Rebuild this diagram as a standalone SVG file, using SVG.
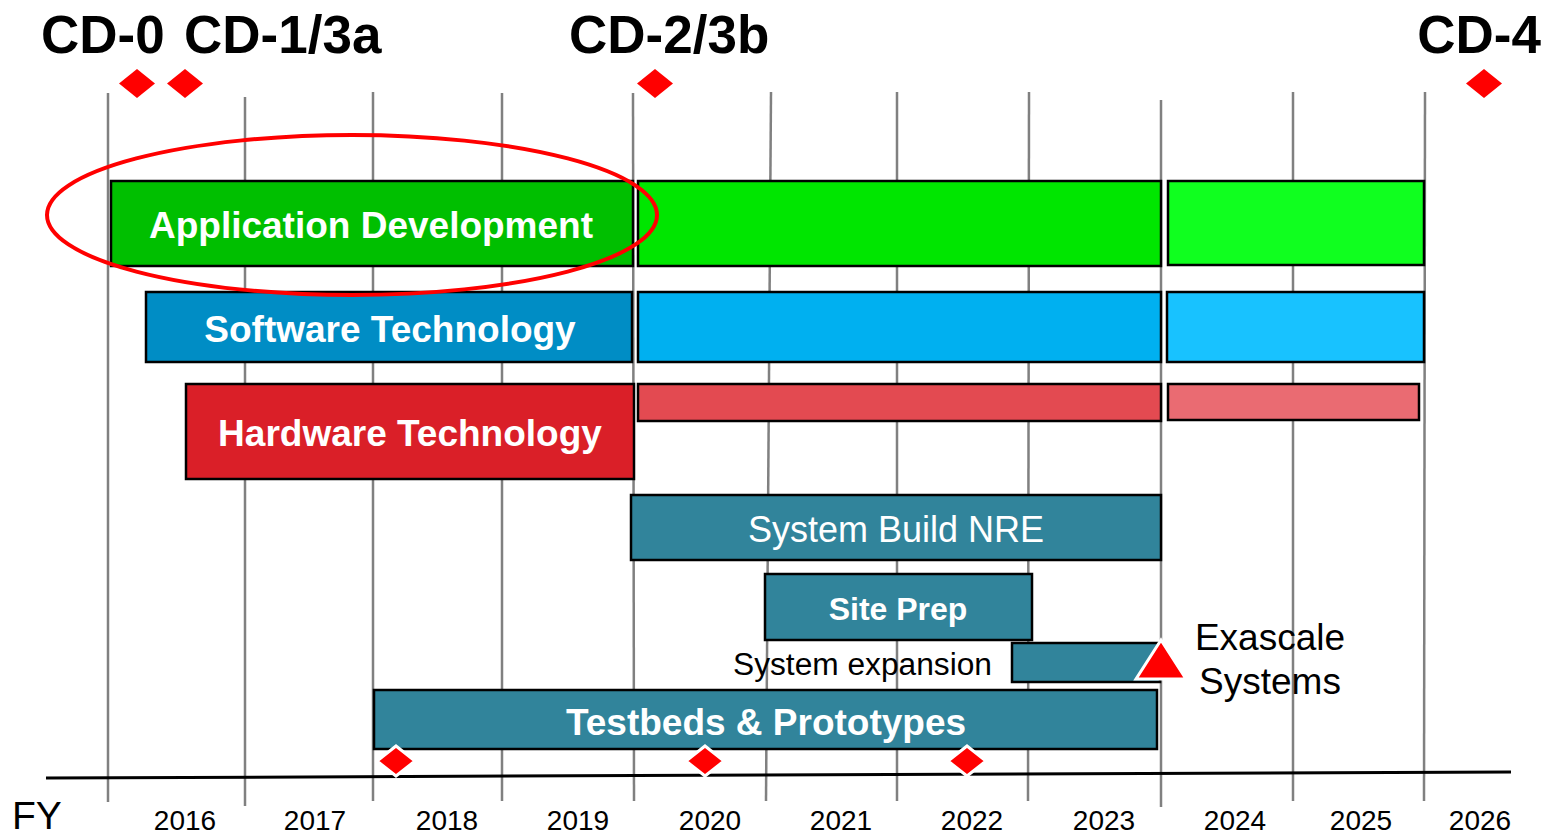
<svg xmlns="http://www.w3.org/2000/svg" width="1544" height="833" viewBox="0 0 1544 833">
<style>
.grid{stroke:#808080;stroke-width:2.5;fill:none}
.bar{stroke:#000;stroke-width:2.5}
.teal{fill:#31849B}
.t{font-family:"Liberation Sans",Arial,sans-serif}
.bw{font-family:"Liberation Sans",Arial,sans-serif;font-weight:bold;fill:#fff;font-size:37px;text-anchor:middle}
.cd{font-family:"Liberation Sans",Arial,sans-serif;font-weight:bold;font-size:53px;fill:#000}
.yr{font-family:"Liberation Sans",Arial,sans-serif;font-size:28px;fill:#000;text-anchor:middle}
.dia{fill:#FF0000}
.diaw{fill:#FF0000;stroke:#fff;stroke-width:3}
</style>
<rect width="1544" height="833" fill="#fff"/>
<g id="grid">
<line class="grid" x1="108" y1="93" x2="108" y2="802"/>
<line class="grid" x1="245" y1="97" x2="245" y2="806"/>
<line class="grid" x1="373" y1="92" x2="373" y2="801"/>
<line class="grid" x1="502" y1="93" x2="502" y2="801"/>
<line class="grid" x1="633" y1="93" x2="634" y2="801"/>
<line class="grid" x1="771" y1="92" x2="766" y2="801"/>
<line class="grid" x1="897" y1="92" x2="897" y2="801"/>
<line class="grid" x1="1029" y1="92" x2="1028" y2="801"/>
<line class="grid" x1="1161" y1="100" x2="1161" y2="807"/>
<line class="grid" x1="1293" y1="92" x2="1293" y2="801"/>
<line class="grid" x1="1425" y1="92" x2="1424" y2="801"/>
</g>
<g id="axis">
<line x1="46" y1="778" x2="1511" y2="772" stroke="#000" stroke-width="3"/>
<text class="t" x="12" y="829" font-size="39">FY</text>
<text class="yr" x="185" y="830">2016</text>
<text class="yr" x="315" y="830">2017</text>
<text class="yr" x="447" y="830">2018</text>
<text class="yr" x="578" y="830">2019</text>
<text class="yr" x="710" y="830">2020</text>
<text class="yr" x="841" y="830">2021</text>
<text class="yr" x="972" y="830">2022</text>
<text class="yr" x="1104" y="830">2023</text>
<text class="yr" x="1235" y="830">2024</text>
<text class="yr" x="1361" y="830">2025</text>
<text class="yr" x="1480" y="830">2026</text>
</g>
<g id="milestones">
<text class="cd" x="41" y="53">CD-0</text>
<text class="cd" x="184" y="53">CD-1/3a</text>
<text class="cd" x="569" y="53">CD-2/3b</text>
<text class="cd" x="1541" y="53" text-anchor="end">CD-4</text>
<polygon class="dia" points="137,69 155,83.5 137,98 119,83.5"/>
<polygon class="dia" points="185,69 203,83.5 185,98 167,83.5"/>
<polygon class="dia" points="655,69 673,83.5 655,98 637,83.5"/>
<polygon class="dia" points="1484,69 1502,83.5 1484,98 1466,83.5"/>
</g>
<g id="app-dev">
<rect class="bar" x="111" y="181" width="522" height="85" fill="#00BF00"/>
<rect class="bar" x="638" y="181" width="523" height="85" fill="#00E600"/>
<rect class="bar" x="1168" y="181" width="256" height="84" fill="#10FF1F"/>
<text class="bw" x="371" y="238">Application Development</text>
</g>
<g id="software">
<rect class="bar" x="146" y="292" width="486" height="70" fill="#008DC5"/>
<rect class="bar" x="638" y="292" width="523" height="70" fill="#00B0F0"/>
<rect class="bar" x="1167" y="292" width="257" height="70" fill="#18C2FF"/>
<text class="bw" x="390" y="342">Software Technology</text>
</g>
<g id="hardware">
<rect class="bar" x="186" y="384" width="448" height="95" fill="#DA1F28"/>
<rect class="bar" x="638" y="384" width="523" height="37" fill="#E34A51"/>
<rect class="bar" x="1168" y="384" width="251" height="36" fill="#EA6B72"/>
<text class="bw" x="410" y="446">Hardware Technology</text>
</g>
<g id="system-build">
<rect class="bar teal" x="631" y="495" width="530" height="65"/>
<text class="t" x="896" y="542" font-size="36" fill="#fff" text-anchor="middle">System Build NRE</text>
</g>
<g id="site-prep">
<rect class="bar teal" x="765" y="574" width="267" height="66"/>
<text class="bw" x="898" y="620" style="font-size:32px">Site Prep</text>
</g>
<g id="system-expansion">
<rect class="bar teal" x="1012" y="643" width="148" height="39"/>
<text class="t" x="992" y="675" font-size="31" text-anchor="end" textLength="259" lengthAdjust="spacingAndGlyphs">System expansion</text>
</g>
<g id="exascale">
<polygon points="1161,640 1186,679 1136,679" fill="#FF0000" stroke="#fff" stroke-width="3"/>
<text class="t" x="1270" y="650" font-size="37" text-anchor="middle">Exascale</text>
<text class="t" x="1270" y="694" font-size="37" text-anchor="middle">Systems</text>
</g>
<g id="testbeds">
<rect class="bar teal" x="374" y="690" width="783" height="59"/>
<text class="bw" x="766" y="735">Testbeds &amp; Prototypes</text>
<polygon class="diaw" points="396,746 415,761 396,776 377,761"/>
<polygon class="diaw" points="705,746 724,761 705,776 686,761"/>
<polygon class="diaw" points="967,746 986,761 967,776 948,761"/>
</g>
<g id="highlight">
<ellipse cx="352" cy="215" rx="305" ry="80" fill="none" stroke="#FF0000" stroke-width="4"/>
</g>
</svg>
